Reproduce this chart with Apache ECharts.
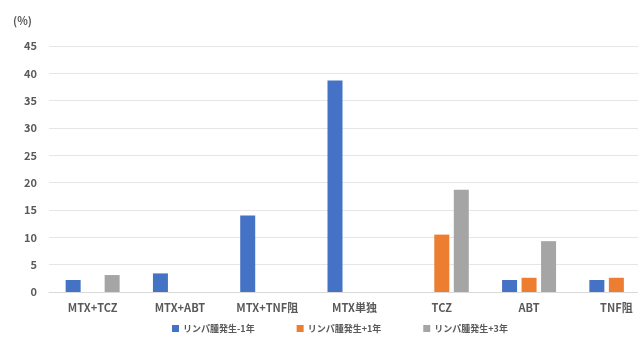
<!DOCTYPE html>
<html><head><meta charset="utf-8">
<script src="https://cdn.jsdelivr.net/npm/echarts@6/dist/echarts.min.js"></script>
<style>html,body{margin:0;padding:0;background:#fff}#c{width:638px;height:339px}</style>
</head><body><div id="c"></div>
<script>
const categories = ["MTX+TCZ","MTX+ABT","MTX+TNF阻","MTX単独","TCZ","ABT","TNF阻"];
const seriesNames = ["リンパ腫発生-1年","リンパ腫発生+1年","リンパ腫発生+3年"];
const minus1 = [2.2, 3.4, 14.0, 38.7, null, 2.2, 2.2];
const plus1 = [null, null, null, null, 10.5, 2.6, 2.6];
const plus3 = [3.1, null, null, null, 18.7, 9.3, null];
const colors = ["#4472C4","#ED7D31","#A5A5A5"];
const font = '"Noto Sans CJK JP", "Liberation Sans", sans-serif';
const chart = echarts.init(document.getElementById('c'), null, {renderer:'canvas'});
const mk = (name, data, color) => ({
  name, type:'bar', data, barWidth:15, barGap:'30%',
  itemStyle:{color},
});
chart.setOption({
  animation:false,
  color: colors,
  grid:{left:49, width:611, top:46, height:246, containLabel:false, outerBoundsMode:'none'},
  legend:{
    bottom:1, left:167, itemWidth:7, itemHeight:7, itemGap:42, icon:'rect',
    textStyle:{color:'#595959', fontSize:9, fontFamily:font, fontWeight:'bold', padding:[0,0,0,-1]},
    data: seriesNames
  },
  graphic:[{type:'text', left:13, top:15, style:{text:'(%)', fill:'#595959', font:'bold 11px '+font}}],
  xAxis:{type:'category', data:categories,
    axisLine:{lineStyle:{color:'#D9D9D9'}}, axisTick:{show:false},
    axisLabel:{color:'#595959', fontSize:11, fontFamily:font, fontWeight:'bold', margin:10}},
  yAxis:{type:'value', min:0, max:45, interval:5,
    axisLine:{show:false}, axisTick:{show:false},
    splitLine:{lineStyle:{color:'#E6E6E6'}},
    axisLabel:{color:'#595959', fontSize:11, fontFamily:font, fontWeight:'bold', margin:12}},
  series:[mk(seriesNames[0], minus1, colors[0]), mk(seriesNames[1], plus1, colors[1]), mk(seriesNames[2], plus3, colors[2])]
});
</script></body></html>
